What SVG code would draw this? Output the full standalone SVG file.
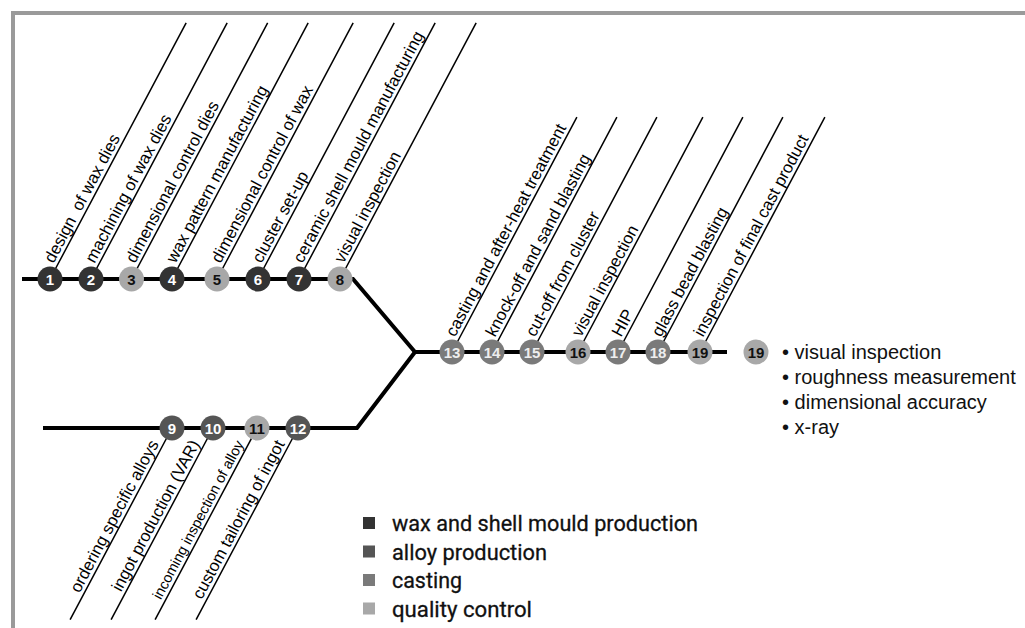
<svg xmlns="http://www.w3.org/2000/svg" width="1025" height="628" viewBox="0 0 1025 628">
<style>
.lead{stroke:#000;stroke-width:1.5;fill:none}
.main{stroke:#000;stroke-width:4;fill:none;stroke-linejoin:miter}
.lbl{font-family:"Liberation Sans",Arial,sans-serif;font-size:16.8px;fill:#000}
.sm{font-size:14.5px}
.num{font-family:"Liberation Sans",Arial,sans-serif;font-size:15px;font-weight:bold;text-anchor:middle}
.w{fill:#333}
.a{fill:#555}
.c{fill:#7a7a7a}
.q{fill:#a8a8a8}
.tw{fill:#fff}
.tl{fill:#eee}
.tb{fill:#111}
.leg{font-family:Roboto,"Liberation Sans",sans-serif;font-size:22px;fill:#111;stroke:#111;stroke-width:0.3}
.bul{font-family:"Liberation Sans",Arial,sans-serif;font-size:20px;fill:#111}
</style>
<rect width="1025" height="628" fill="#fff"/>
<path d="M13,628 V13 H1025" stroke="#9a9a9a" stroke-width="4" fill="none"/>
<g id="connectors">
<path class="main" d="M22,279 H353 L415,352 H727"/>
<path class="main" d="M43,428 H357 L415,352"/>
</g>
<g id="n1"><g transform="translate(50,279) rotate(-62)"><line class="lead" x1="0" y1="0" x2="290" y2="0"/><text class="lbl" x="15" y="-4" xml:space="preserve">design  of wax dies</text></g><circle cx="50" cy="279" r="12.5" class="w"/><text class="num tw" x="50" y="284.5">1</text></g>
<g id="n2"><g transform="translate(91,279) rotate(-62)"><line class="lead" x1="0" y1="0" x2="290" y2="0"/><text class="lbl" x="15" y="-4">machining of wax dies</text></g><circle cx="91" cy="279" r="12.5" class="w"/><text class="num tw" x="91" y="284.5">2</text></g>
<g id="n3"><g transform="translate(131.5,279) rotate(-62)"><line class="lead" x1="0" y1="0" x2="290" y2="0"/><text class="lbl" x="15" y="-4">dimensional control dies</text></g><circle cx="131.5" cy="279" r="12.5" class="q"/><text class="num tb" x="131.5" y="284.5">3</text></g>
<g id="n4"><g transform="translate(172,279) rotate(-62)"><line class="lead" x1="0" y1="0" x2="290" y2="0"/><text class="lbl" x="15" y="-4">wax pattern manufacturing</text></g><circle cx="172" cy="279" r="12.5" class="w"/><text class="num tw" x="172" y="284.5">4</text></g>
<g id="n5"><g transform="translate(217,279) rotate(-62)"><line class="lead" x1="0" y1="0" x2="290" y2="0"/><text class="lbl" x="15" y="-4">dimensional control of wax</text></g><circle cx="217" cy="279" r="12.5" class="q"/><text class="num tb" x="217" y="284.5">5</text></g>
<g id="n6"><g transform="translate(258,279) rotate(-62)"><line class="lead" x1="0" y1="0" x2="290" y2="0"/><text class="lbl" x="15" y="-4">cluster set-up</text></g><circle cx="258" cy="279" r="12.5" class="w"/><text class="num tw" x="258" y="284.5">6</text></g>
<g id="n7"><g transform="translate(299,279) rotate(-62)"><line class="lead" x1="0" y1="0" x2="290" y2="0"/><text class="lbl" x="15" y="-4">ceramic shell mould manufacturing</text></g><circle cx="299" cy="279" r="12.5" class="w"/><text class="num tw" x="299" y="284.5">7</text></g>
<g id="n8"><g transform="translate(340,279) rotate(-62)"><line class="lead" x1="0" y1="0" x2="290" y2="0"/><text class="lbl" x="15" y="-4">visual inspection</text></g><circle cx="340" cy="279" r="12.5" class="q"/><text class="num tb" x="340" y="284.5">8</text></g>
<g id="n9"><g transform="translate(172,428) rotate(-62)"><line class="lead" x1="0" y1="0" x2="-217" y2="0"/><text class="lbl" x="-20" y="-4" text-anchor="end">ordering specific alloys</text></g><circle cx="172" cy="428" r="12.5" class="a"/><text class="num tw" x="172" y="433.5">9</text></g>
<g id="n10"><g transform="translate(213,428) rotate(-62)"><line class="lead" x1="0" y1="0" x2="-217" y2="0"/><text class="lbl" x="-20" y="-4" text-anchor="end">ingot production (VAR)</text></g><circle cx="213" cy="428" r="12.5" class="a"/><text class="num tw" x="213" y="433.5">10</text></g>
<g id="n11"><g transform="translate(257,428) rotate(-62)"><line class="lead" x1="0" y1="0" x2="-217" y2="0"/><text class="lbl sm" x="-20" y="-4" text-anchor="end">incoming inspection of alloy</text></g><circle cx="257" cy="428" r="12.5" class="q"/><text class="num tb" x="257" y="433.5">11</text></g>
<g id="n12"><g transform="translate(298,428) rotate(-62)"><line class="lead" x1="0" y1="0" x2="-217" y2="0"/><text class="lbl" x="-20" y="-4" text-anchor="end">custom tailoring of ingot</text></g><circle cx="298" cy="428" r="12.5" class="a"/><text class="num tw" x="298" y="433.5">12</text></g>
<g id="n13"><g transform="translate(452,352) rotate(-62)"><line class="lead" x1="0" y1="0" x2="266" y2="0"/><text class="lbl" x="14" y="-4">casting and after-heat treatment</text></g><circle cx="452" cy="352" r="12.5" class="c"/><text class="num tl" x="452" y="357.5">13</text></g>
<g id="n14"><g transform="translate(492,352) rotate(-62)"><line class="lead" x1="0" y1="0" x2="266" y2="0"/><text class="lbl" x="14" y="-4">knock-off and sand blasting</text></g><circle cx="492" cy="352" r="12.5" class="c"/><text class="num tl" x="492" y="357.5">14</text></g>
<g id="n15"><g transform="translate(532,352) rotate(-62)"><line class="lead" x1="0" y1="0" x2="266" y2="0"/><text class="lbl" x="14" y="-4">cut-off from cluster</text></g><circle cx="532" cy="352" r="12.5" class="c"/><text class="num tl" x="532" y="357.5">15</text></g>
<g id="n16"><g transform="translate(578,352) rotate(-62)"><line class="lead" x1="0" y1="0" x2="266" y2="0"/><text class="lbl" x="14" y="-4">visual inspection</text></g><circle cx="578" cy="352" r="12.5" class="q"/><text class="num tb" x="578" y="357.5">16</text></g>
<g id="n17"><g transform="translate(618,352) rotate(-62)"><line class="lead" x1="0" y1="0" x2="266" y2="0"/><text class="lbl" x="14" y="-4">HIP</text></g><circle cx="618" cy="352" r="12.5" class="c"/><text class="num tl" x="618" y="357.5">17</text></g>
<g id="n18"><g transform="translate(658,352) rotate(-62)"><line class="lead" x1="0" y1="0" x2="266" y2="0"/><text class="lbl" x="14" y="-4">glass bead blasting</text></g><circle cx="658" cy="352" r="12.5" class="c"/><text class="num tl" x="658" y="357.5">18</text></g>
<g id="n19"><g transform="translate(700,352) rotate(-62)"><line class="lead" x1="0" y1="0" x2="266" y2="0"/><text class="lbl" x="14" y="-4">inspection of final cast product</text></g><circle cx="700" cy="352" r="12.5" class="q"/><text class="num tb" x="700" y="357.5">19</text></g>
<g id="n19-detail"><circle cx="756" cy="352" r="12.5" class="q"/><text class="num tb" x="756" y="357.5">19</text>
<text class="bul" x="782" y="359">• visual inspection</text>
<text class="bul" x="782" y="384">• roughness measurement</text>
<text class="bul" x="782" y="409">• dimensional accuracy</text>
<text class="bul" x="782" y="434">• x-ray</text>
</g>
<g id="legend">
<rect x="363" y="517" width="12" height="12" class="w"/><text class="leg" x="392" y="531" textLength="306" lengthAdjust="spacingAndGlyphs">wax and shell mould production</text>
<rect x="363" y="545.5" width="12" height="12" class="a"/><text class="leg" x="392" y="559.5" textLength="155" lengthAdjust="spacingAndGlyphs">alloy production</text>
<rect x="363" y="574" width="12" height="12" class="c"/><text class="leg" x="392" y="588" textLength="70" lengthAdjust="spacingAndGlyphs">casting</text>
<rect x="363" y="602.5" width="12" height="12" class="q"/><text class="leg" x="392" y="616.5" textLength="140" lengthAdjust="spacingAndGlyphs">quality control</text>
</g>
</svg>
